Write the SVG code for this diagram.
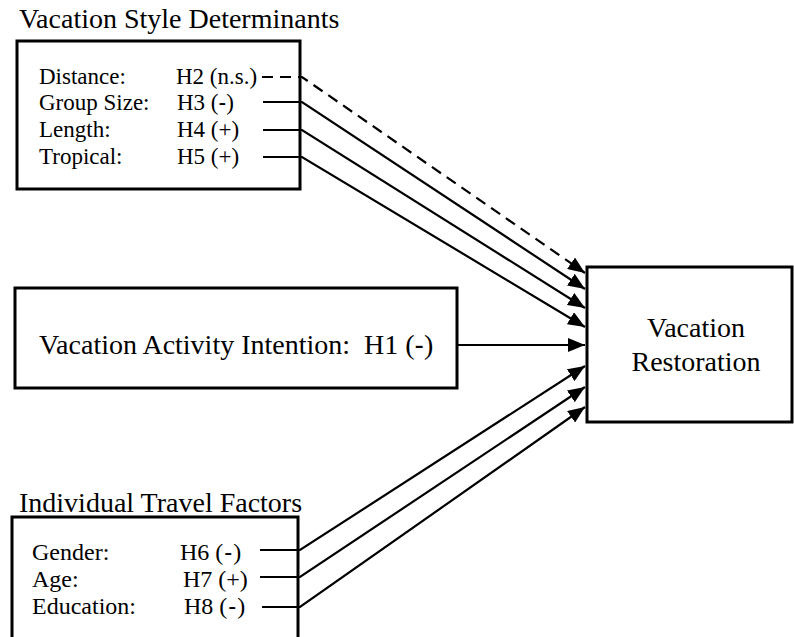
<svg xmlns="http://www.w3.org/2000/svg" width="794" height="637" viewBox="0 0 794 637">
<style>
text{font-family:"Liberation Serif","Times New Roman",serif;fill:#000}
.title{font-size:28px}
.row{font-size:23px}
.row2{font-size:24px}
.big{font-size:28px}
.box{fill:#fff;stroke:#000;stroke-width:3}
.conn{fill:none;stroke:#000;stroke-width:2.2}
.dash{stroke-dasharray:11,7}
.m{font-family:"Liberation Sans",Arial,sans-serif}
</style>
<defs>
<marker id="ah" markerUnits="userSpaceOnUse" markerWidth="17" markerHeight="14" refX="17" refY="7" orient="auto">
<path d="M0,0 L17,7 L0,14 Z" fill="#000" stroke="none"/>
</marker>
</defs>
<rect width="794" height="637" fill="#fff"/>
<g id="vacation-style">
<text class="title" x="19" y="28">Vacation Style Determinants</text>
<rect class="box" x="17" y="41" width="283" height="148"/>
<text class="row" x="39" y="84">Distance:</text>
<text class="row" x="176" y="84">H2 (n.s.)</text>
<text class="row" x="39" y="110">Group Size:</text>
<text class="row" x="177" y="110">H3 (<tspan class="m">-</tspan>)</text>
<text class="row" x="39" y="137">Length:</text>
<text class="row" x="177" y="137">H4 (+)</text>
<text class="row" x="39" y="164">Tropical:</text>
<text class="row" x="177" y="164">H5 (+)</text>
</g>
<g id="activity-intention">
<rect class="box" x="15" y="288" width="442" height="100"/>
<text class="big" x="39" y="354" xml:space="preserve">Vacation Activity Intention:  H1 (<tspan class="m">-</tspan>)</text>
</g>
<g id="travel-factors">
<text class="title" x="19" y="512">Individual Travel Factors</text>
<rect class="box" x="12" y="517" width="286" height="140"/>
<text class="row2" x="32" y="560">Gender:</text>
<text class="row2" x="180" y="560">H6 (<tspan class="m" dx="1">-</tspan><tspan dx="1">)</tspan></text>
<text class="row2" x="32" y="587">Age:</text>
<text class="row2" x="183" y="587">H7 (+)</text>
<text class="row2" x="32" y="614">Education:</text>
<text class="row2" x="184" y="614">H8 (<tspan class="m" dx="1">-</tspan><tspan dx="1">)</tspan></text>
</g>
<g id="restoration">
<rect class="box" x="587" y="267" width="205" height="155"/>
<text class="big" x="696" y="337" text-anchor="middle">Vacation</text>
<text class="big" x="696" y="371" text-anchor="middle">Restoration</text>
</g>
<g id="connectors">
<path class="conn dash" d="M262,77 H302 L585,273" marker-end="url(#ah)"/>
<path class="conn" d="M263,102 H302 L585,289" marker-end="url(#ah)"/>
<path class="conn" d="M263,130 H302 L585,308" marker-end="url(#ah)"/>
<path class="conn" d="M263,157 H302 L585,327" marker-end="url(#ah)"/>
<path class="conn" d="M458,345 H585" marker-end="url(#ah)"/>
<path class="conn" d="M260,550 H300 L585,366" marker-end="url(#ah)"/>
<path class="conn" d="M260,577 H300 L585,387" marker-end="url(#ah)"/>
<path class="conn" d="M262,607 H300 L585,407" marker-end="url(#ah)"/>
</g>
</svg>
